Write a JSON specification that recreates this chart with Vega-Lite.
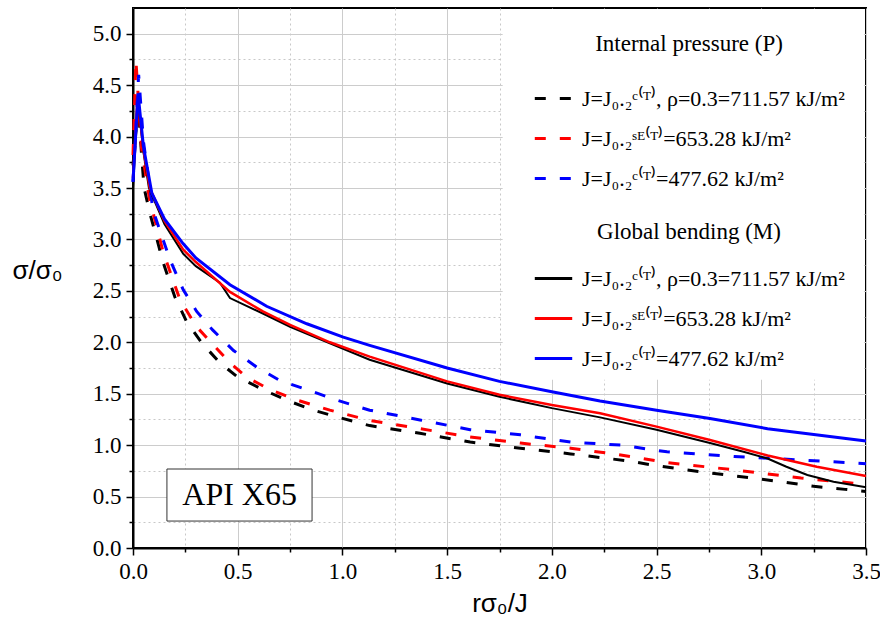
{
  "$schema": "https://vega.github.io/schema/vega-lite/v6.json",
  "width": 733,
  "height": 540,
  "autosize": {"type": "none"},
  "padding": {"left": 133, "top": 8, "right": 14, "bottom": 84},
  "background": "white",
  "config": {
    "view": {"stroke": "black", "strokeWidth": 2}
  },
  "datasets": {
    "P": [
      {"x": 0, "y": 3.72, "s": "a"}, {"x": 0.024, "y": 4.32, "s": "a"}, {"x": 0.04, "y": 3.85, "s": "a"}, {"x": 0.053, "y": 3.5, "s": "a"}, {"x": 0.08, "y": 3.26, "s": "a"}, {"x": 0.145, "y": 2.77, "s": "a"}, {"x": 0.2, "y": 2.44, "s": "a"}, {"x": 0.256, "y": 2.2, "s": "a"}, {"x": 0.33, "y": 1.99, "s": "a"}, {"x": 0.415, "y": 1.8, "s": "a"}, {"x": 0.495, "y": 1.67, "s": "a"}, {"x": 0.62, "y": 1.54, "s": "a"}, {"x": 0.73, "y": 1.44, "s": "a"}, {"x": 0.86, "y": 1.34, "s": "a"}, {"x": 1.0, "y": 1.26, "s": "a"}, {"x": 1.13, "y": 1.19, "s": "a"}, {"x": 1.37, "y": 1.115, "s": "a"}, {"x": 1.61, "y": 1.03, "s": "a"}, {"x": 1.85, "y": 0.97, "s": "a"}, {"x": 2.09, "y": 0.915, "s": "a"}, {"x": 2.23, "y": 0.88, "s": "a"}, {"x": 2.37, "y": 0.845, "s": "a"}, {"x": 2.5, "y": 0.8, "s": "a"}, {"x": 2.75, "y": 0.73, "s": "a"}, {"x": 3.0, "y": 0.67, "s": "a"}, {"x": 3.25, "y": 0.6, "s": "a"}, {"x": 3.4, "y": 0.57, "s": "a"}, {"x": 3.5, "y": 0.55, "s": "a"},
      {"x": 0, "y": 3.82, "s": "b"}, {"x": 0.014, "y": 4.74, "s": "b"}, {"x": 0.04, "y": 3.9, "s": "b"}, {"x": 0.07, "y": 3.5, "s": "b"}, {"x": 0.08, "y": 3.38, "s": "b"}, {"x": 0.145, "y": 2.87, "s": "b"}, {"x": 0.225, "y": 2.41, "s": "b"}, {"x": 0.304, "y": 2.15, "s": "b"}, {"x": 0.463, "y": 1.8, "s": "b"}, {"x": 0.543, "y": 1.66, "s": "b"}, {"x": 0.654, "y": 1.54, "s": "b"}, {"x": 0.78, "y": 1.44, "s": "b"}, {"x": 0.94, "y": 1.34, "s": "b"}, {"x": 1.13, "y": 1.24, "s": "b"}, {"x": 1.37, "y": 1.16, "s": "b"}, {"x": 1.61, "y": 1.08, "s": "b"}, {"x": 1.85, "y": 1.02, "s": "b"}, {"x": 2.09, "y": 0.97, "s": "b"}, {"x": 2.31, "y": 0.91, "s": "b"}, {"x": 2.55, "y": 0.83, "s": "b"}, {"x": 2.87, "y": 0.76, "s": "b"}, {"x": 3.19, "y": 0.68, "s": "b"}, {"x": 3.44, "y": 0.63, "s": "b"}, {"x": 3.5, "y": 0.62, "s": "b"},
      {"x": 0, "y": 3.56, "s": "c"}, {"x": 0.027, "y": 4.6, "s": "c"}, {"x": 0.05, "y": 3.95, "s": "c"}, {"x": 0.096, "y": 3.28, "s": "c"}, {"x": 0.177, "y": 2.8, "s": "c"}, {"x": 0.24, "y": 2.51, "s": "c"}, {"x": 0.304, "y": 2.3, "s": "c"}, {"x": 0.38, "y": 2.12, "s": "c"}, {"x": 0.48, "y": 1.92, "s": "c"}, {"x": 0.59, "y": 1.76, "s": "c"}, {"x": 0.7, "y": 1.63, "s": "c"}, {"x": 0.83, "y": 1.54, "s": "c"}, {"x": 0.97, "y": 1.44, "s": "c"}, {"x": 1.13, "y": 1.34, "s": "c"}, {"x": 1.37, "y": 1.245, "s": "c"}, {"x": 1.61, "y": 1.15, "s": "c"}, {"x": 1.85, "y": 1.1, "s": "c"}, {"x": 2.09, "y": 1.03, "s": "c"}, {"x": 2.33, "y": 1.0, "s": "c"}, {"x": 2.55, "y": 0.935, "s": "c"}, {"x": 2.87, "y": 0.89, "s": "c"}, {"x": 3.19, "y": 0.855, "s": "c"}, {"x": 3.5, "y": 0.82, "s": "c"}
    ],
    "M": [
      {"x": 0, "y": 3.5, "m": "a"}, {"x": 0.024, "y": 4.34, "m": "a"}, {"x": 0.05, "y": 3.85, "m": "a"}, {"x": 0.076, "y": 3.5, "m": "a"}, {"x": 0.15, "y": 3.15, "m": "a"}, {"x": 0.24, "y": 2.86, "m": "a"}, {"x": 0.3, "y": 2.74, "m": "a"}, {"x": 0.415, "y": 2.58, "m": "a"}, {"x": 0.463, "y": 2.43, "m": "a"}, {"x": 0.62, "y": 2.28, "m": "a"}, {"x": 0.75, "y": 2.15, "m": "a"}, {"x": 0.94, "y": 1.99, "m": "a"}, {"x": 1.13, "y": 1.83, "m": "a"}, {"x": 1.5, "y": 1.6, "m": "a"}, {"x": 1.75, "y": 1.47, "m": "a"}, {"x": 2.0, "y": 1.36, "m": "a"}, {"x": 2.23, "y": 1.27, "m": "a"}, {"x": 2.5, "y": 1.15, "m": "a"}, {"x": 2.755, "y": 1.02, "m": "a"}, {"x": 2.915, "y": 0.936, "m": "a"}, {"x": 3.03, "y": 0.87, "m": "a"}, {"x": 3.12, "y": 0.79, "m": "a"}, {"x": 3.22, "y": 0.71, "m": "a"}, {"x": 3.345, "y": 0.645, "m": "a"}, {"x": 3.5, "y": 0.59, "m": "a"},
      {"x": 0, "y": 3.6, "m": "b"}, {"x": 0.022, "y": 4.4, "m": "b"}, {"x": 0.05, "y": 3.87, "m": "b"}, {"x": 0.08, "y": 3.5, "m": "b"}, {"x": 0.15, "y": 3.18, "m": "b"}, {"x": 0.24, "y": 2.9, "m": "b"}, {"x": 0.3, "y": 2.78, "m": "b"}, {"x": 0.463, "y": 2.49, "m": "b"}, {"x": 0.62, "y": 2.3, "m": "b"}, {"x": 0.75, "y": 2.17, "m": "b"}, {"x": 0.94, "y": 2.0, "m": "b"}, {"x": 1.13, "y": 1.86, "m": "b"}, {"x": 1.5, "y": 1.62, "m": "b"}, {"x": 1.75, "y": 1.49, "m": "b"}, {"x": 2.0, "y": 1.39, "m": "b"}, {"x": 2.23, "y": 1.31, "m": "b"}, {"x": 2.5, "y": 1.18, "m": "b"}, {"x": 2.755, "y": 1.05, "m": "b"}, {"x": 3.03, "y": 0.9, "m": "b"}, {"x": 3.265, "y": 0.79, "m": "b"}, {"x": 3.5, "y": 0.7, "m": "b"},
      {"x": 0, "y": 3.56, "m": "c"}, {"x": 0.024, "y": 4.42, "m": "c"}, {"x": 0.05, "y": 3.9, "m": "c"}, {"x": 0.09, "y": 3.45, "m": "c"}, {"x": 0.15, "y": 3.2, "m": "c"}, {"x": 0.239, "y": 2.96, "m": "c"}, {"x": 0.3, "y": 2.82, "m": "c"}, {"x": 0.463, "y": 2.56, "m": "c"}, {"x": 0.638, "y": 2.35, "m": "c"}, {"x": 0.83, "y": 2.18, "m": "c"}, {"x": 1.004, "y": 2.05, "m": "c"}, {"x": 1.13, "y": 1.97, "m": "c"}, {"x": 1.5, "y": 1.75, "m": "c"}, {"x": 1.75, "y": 1.62, "m": "c"}, {"x": 2.0, "y": 1.52, "m": "c"}, {"x": 2.23, "y": 1.43, "m": "c"}, {"x": 2.5, "y": 1.34, "m": "c"}, {"x": 2.755, "y": 1.26, "m": "c"}, {"x": 3.03, "y": 1.16, "m": "c"}, {"x": 3.5, "y": 1.04, "m": "c"}
    ],
    "tag": [{"t": "API X65"}]
  },
  "resolve": {"axis": {"x": "independent", "y": "independent"}, "scale": {"color": "independent"}, "legend": {"color": "independent"}},
  "layer": [
    {
      "data": {"name": "P"},
      "mark": {"type": "point", "opacity": 0},
      "encoding": {
        "x": {"field": "x", "type": "quantitative", "scale": {"domain": [0, 3.5], "nice": false, "zero": false},
          "axis": {"orient": "bottom", "values": [0.25, 0.75, 1.25, 1.75, 2.25, 2.75, 3.25], "labels": false, "domain": false, "tickSize": 4, "tickWidth": 1.5, "tickColor": "black", "grid": true, "gridColor": "#c8c8c8", "gridDash": [2, 3], "gridWidth": 1, "title": null}},
        "y": {"field": "y", "type": "quantitative", "scale": {"domain": [0, 5.25], "nice": false, "zero": false},
          "axis": {"orient": "left", "values": [0.25, 0.75, 1.25, 1.75, 2.25, 2.75, 3.25, 3.75, 4.25, 4.75], "labels": false, "domain": false, "tickSize": 4, "tickWidth": 1.5, "tickColor": "black", "grid": true, "gridColor": "#c8c8c8", "gridDash": [2, 3], "gridWidth": 1, "title": null}}
      }
    },
    {
      "data": {"name": "tag"},
      "mark": {"type": "rect", "fill": "white", "strokeWidth": 0},
      "encoding": {
        "x": {"datum": 1.765, "type": "quantitative", "axis": null},
        "x2": {"datum": 3.49},
        "y": {"datum": 1.635, "type": "quantitative", "axis": null},
        "y2": {"datum": 5.24}
      }
    },
    {
      "data": {"name": "P"},
      "mark": {"type": "line", "strokeDash": [11, 14], "strokeWidth": 3},
      "encoding": {
        "x": {"field": "x", "type": "quantitative",
          "axis": {"orient": "bottom", "values": [0, 0.5, 1, 1.5, 2, 2.5, 3, 3.5], "format": ".1f", "labelFlush": false, "labelFont": "Liberation Serif", "labelFontSize": 23, "labelColor": "black", "domainColor": "black", "domainWidth": 2, "tickColor": "black", "tickWidth": 1.5, "tickSize": 7, "labelPadding": 5, "grid": true, "gridColor": "#cccccc", "gridWidth": 1,
            "title": "rσ₀/J", "titleFont": "Liberation Sans", "titleFontSize": 26, "titleFontWeight": "normal", "titleColor": "black", "titlePadding": 7}},
        "y": {"field": "y", "type": "quantitative",
          "axis": {"orient": "left", "values": [0, 0.5, 1, 1.5, 2, 2.5, 3, 3.5, 4, 4.5, 5], "format": ".1f", "labelFlush": false, "labelFont": "Liberation Serif", "labelFontSize": 23, "labelColor": "black", "domainColor": "black", "domainWidth": 2, "tickColor": "black", "tickWidth": 1.5, "tickSize": 7, "labelPadding": 5, "grid": true, "gridColor": "#cccccc", "gridWidth": 1,
            "title": "σ/σ₀", "titleFont": "Liberation Sans", "titleFontSize": 26, "titleFontWeight": "normal", "titleColor": "black", "titleAngle": 0, "titleAlign": "center", "titleBaseline": "middle", "titleX": -96, "titleY": 262}},
        "color": {"field": "s", "type": "nominal",
          "scale": {"domain": ["a", "b", "c"], "range": ["#000000", "#ff0000", "#0000ff"]},
          "legend": {"title": "Internal pressure (P)", "orient": "none", "legendX": 400, "legendY": 25, "padding": 0,
            "titleFont": "Liberation Serif", "titleFontSize": 23, "titleFontWeight": "normal", "titleColor": "black", "titleAnchor": "middle", "titlePadding": 22, "titleLimit": 500,
            "labelFont": "Liberation Serif", "labelFontSize": 22, "labelColor": "black", "labelLimit": 500, "labelOffset": 8,
            "symbolType": "stroke", "symbolSize": 1400, "symbolStrokeWidth": 3, "symbolDash": [11, 14], "rowPadding": 8,
            "labelExpr": "datum.value == 'a' ? 'J=J₀.₂ᶜ⁽ᵀ⁾, ρ=0.3=711.57 kJ/m²' : datum.value == 'b' ? 'J=J₀.₂ˢᴱ⁽ᵀ⁾=653.28 kJ/m²' : 'J=J₀.₂ᶜ⁽ᵀ⁾=477.62 kJ/m²'"}}
      }
    },
    {
      "data": {"name": "M"},
      "mark": {"type": "line"},
      "encoding": {
        "x": {"field": "x", "type": "quantitative", "axis": null},
        "y": {"field": "y", "type": "quantitative", "axis": null},
        "color": {"field": "m", "type": "nominal",
          "scale": {"domain": ["a", "b", "c"], "range": ["#000000", "#ff0000", "#0000ff"]},
          "legend": {"title": "Global bending (M)", "orient": "none", "legendX": 400, "legendY": 213, "padding": 0,
            "titleFont": "Liberation Serif", "titleFontSize": 23, "titleFontWeight": "normal", "titleColor": "black", "titleAnchor": "middle", "titlePadding": 14, "titleLimit": 500,
            "labelFont": "Liberation Serif", "labelFontSize": 22, "labelColor": "black", "labelLimit": 500, "labelOffset": 8,
            "symbolType": "stroke", "symbolSize": 1400, "symbolStrokeWidth": 3, "rowPadding": 8,
            "labelExpr": "datum.value == 'a' ? 'J=J₀.₂ᶜ⁽ᵀ⁾, ρ=0.3=711.57 kJ/m²' : datum.value == 'b' ? 'J=J₀.₂ˢᴱ⁽ᵀ⁾=653.28 kJ/m²' : 'J=J₀.₂ᶜ⁽ᵀ⁾=477.62 kJ/m²'"}},
        "strokeWidth": {"field": "m", "type": "nominal", "scale": {"domain": ["a", "b", "c"], "range": [2, 3, 3]}, "legend": null}
      }
    },
    {
      "data": {"name": "tag"},
      "mark": {"type": "rect", "fill": "white", "stroke": "#333333", "strokeWidth": 1},
      "encoding": {
        "x": {"datum": 0.162, "type": "quantitative", "axis": null},
        "x2": {"datum": 0.855},
        "y": {"datum": 0.768, "type": "quantitative", "axis": null},
        "y2": {"datum": 0.262}
      }
    },
    {
      "data": {"name": "tag"},
      "mark": {"type": "text", "font": "Liberation Serif", "fontSize": 32, "color": "black", "align": "center", "baseline": "middle"},
      "encoding": {
        "x": {"datum": 0.509, "type": "quantitative", "axis": null},
        "y": {"datum": 0.515, "type": "quantitative", "axis": null},
        "text": {"field": "t"}
      }
    }
  ]
}
